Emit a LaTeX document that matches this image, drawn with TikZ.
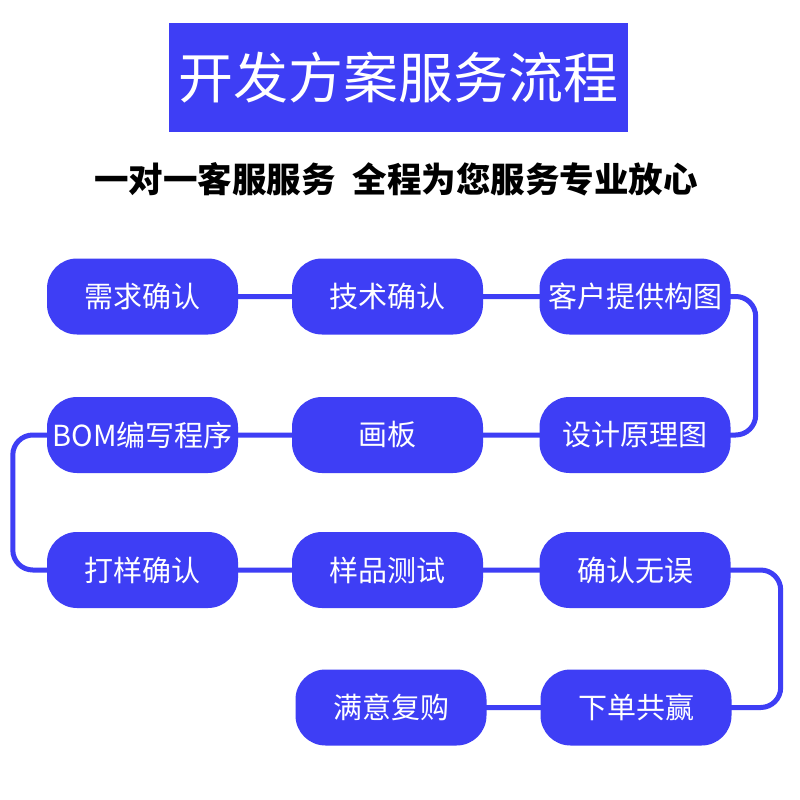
\documentclass[tikz,border=0pt]{standalone}
\usepackage{fontspec}
\setmainfont{Noto Sans CJK SC}
\usetikzlibrary{calc,backgrounds}
\definecolor{bblue}{RGB}{62,62,245}
\begin{document}
\begin{tikzpicture}[x=1pt,y=-1pt,
  box/.style={fill=bblue, rounded corners=30pt, minimum width=191pt, minimum height=76pt, inner sep=0pt, text=white, font=\fontsize{29}{34}\selectfont},
  conn/.style={draw=bblue, line width=5pt, rounded corners=20pt}]
\useasboundingbox (0,0) rectangle (800,800);
\node[fill=bblue, minimum width=459pt, minimum height=109pt, inner sep=0pt, text=white, font=\fontsize{55}{60}\selectfont] (title) at (398.5,77.5) {开发方案服务流程};
\node[font=\fontsize{34.5}{40}\selectfont\bfseries, inner sep=0pt] (sub) at (396,179) {一对一客服服务\hspace{0.5em}全程为您服务专业放心};

\node[box] (b1) at (142.5,296.5) {需求确认};
\node[box] (b2) at (387.5,296.5) {技术确认};
\node[box] (b3) at (635,296.5) {客户提供构图};
\node[box] (b4) at (635,435) {设计原理图};
\node[box] (b5) at (387.5,435) {画板};
\node[box] (b6) at (142.5,435) {BOM编写程序};
\node[box] (b7) at (142.5,570) {打样确认};
\node[box] (b8) at (387.5,570) {样品测试};
\node[box] (b9) at (635,570) {确认无误};
\node[box] (b10) at (636,707.5) {下单共赢};
\node[box] (b11) at (391,707.5) {满意复购};

\begin{scope}[on background layer]
\fill[white] (0,0) rectangle (800,800);
\draw[conn] (b1.center) -- (b2.center) -- (b3.center) -- ($(b3.east)+(25,0)$) |- (b4.center) -- (b5.center) -- (b6.center) -- ($(b6.west)+(-34,0)$) |- (b7.center) -- (b8.center) -- (b9.center) -- ($(b9.east)+(50,0)$) |- (b10.center) -- (b11.center);
\end{scope}
\end{tikzpicture}
\end{document}
